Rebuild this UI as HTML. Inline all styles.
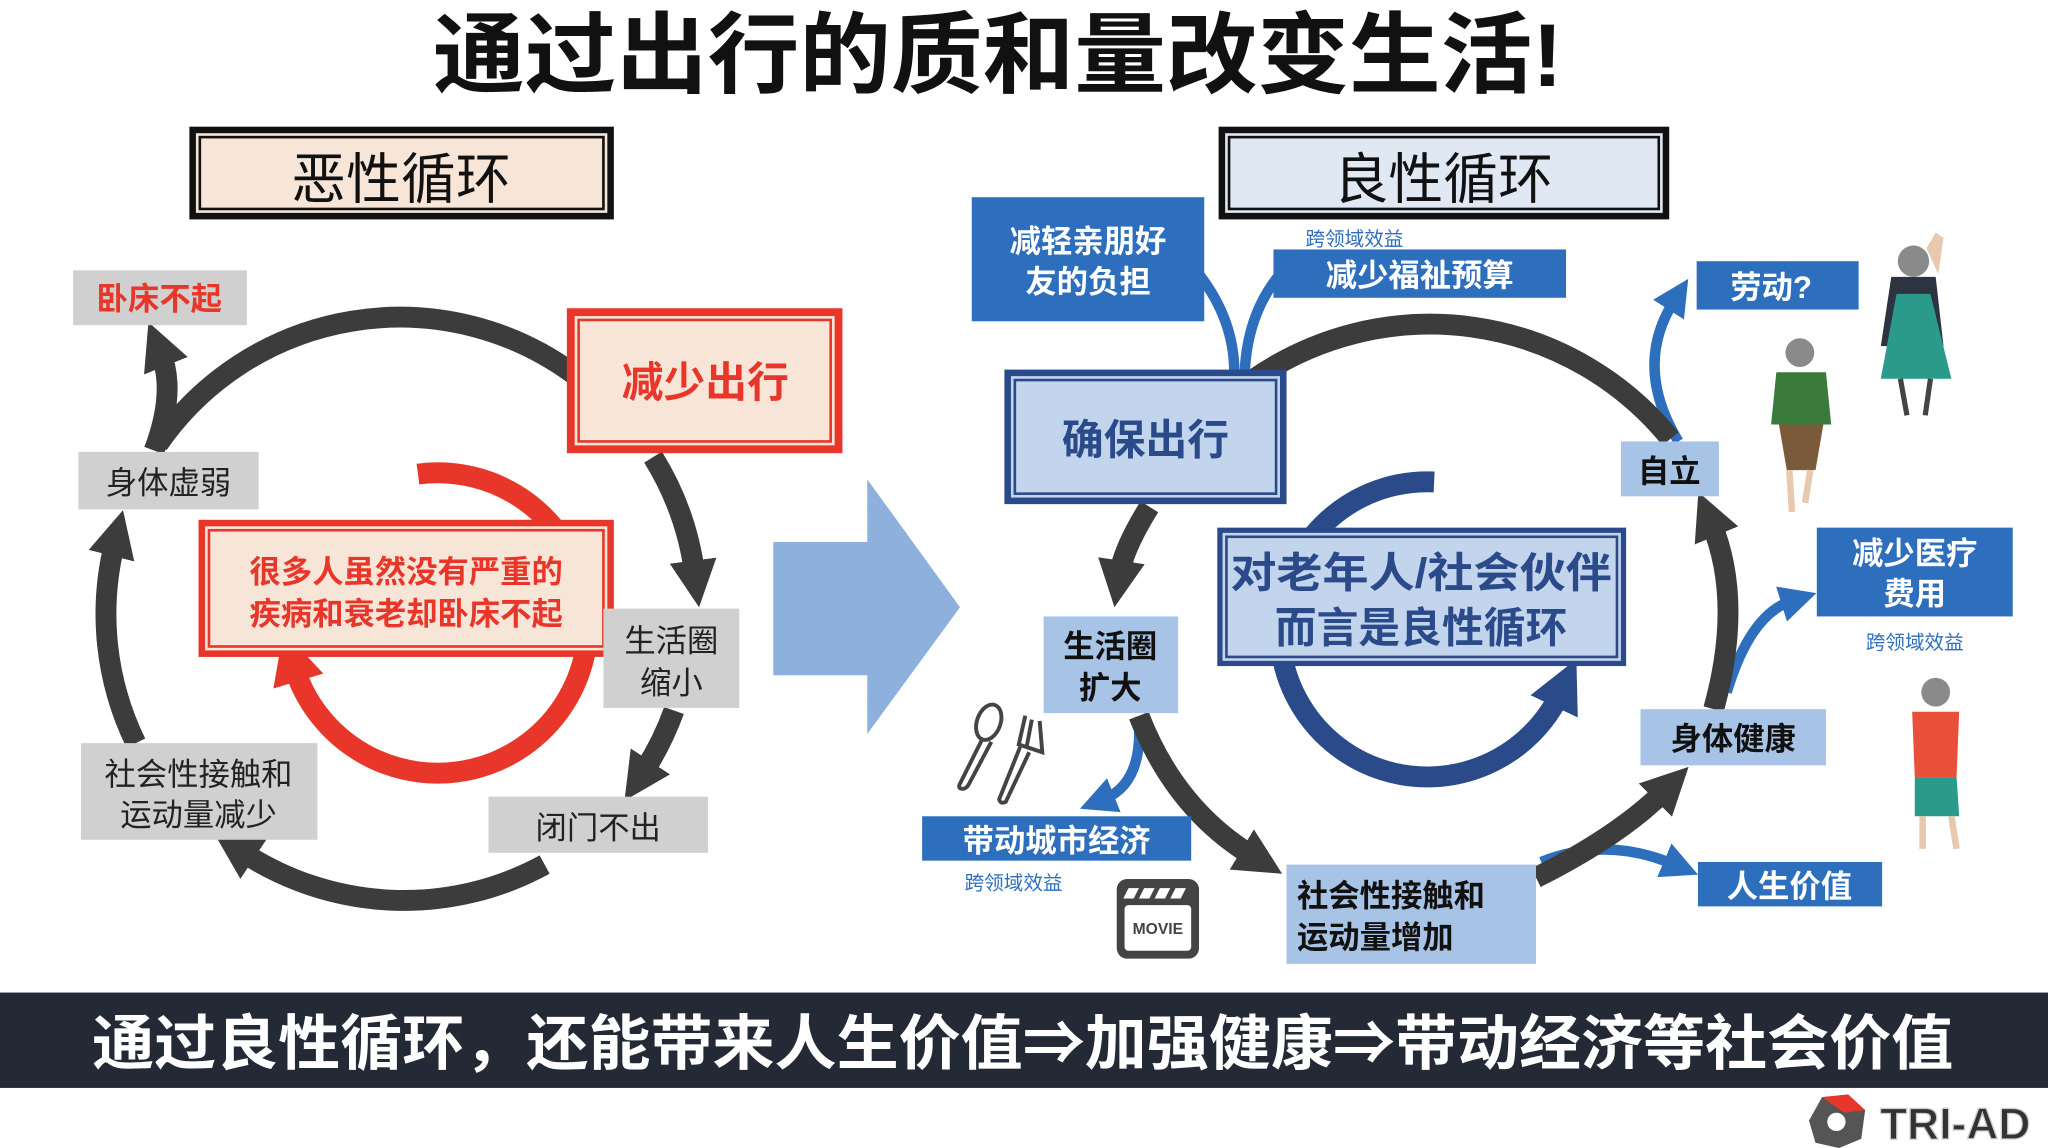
<!DOCTYPE html>
<html><head><meta charset="utf-8"><style>
html,body{margin:0;padding:0;background:#fff;}
svg{display:block;}
text{font-family:"Liberation Sans","Noto Sans CJK SC",sans-serif;}
</style></head><body>
<svg width="2048" height="1148" viewBox="0 0 1568 879" preserveAspectRatio="none" xmlns="http://www.w3.org/2000/svg">
<defs>
<marker id="md" viewBox="0 0 10 10" markerUnits="userSpaceOnUse" markerWidth="36" markerHeight="36" refX="3" refY="5" orient="auto"><path d="M0,0 L10,5 L0,10z" fill="#3c3c3c"/></marker>
<marker id="mb" viewBox="0 0 10 10" markerUnits="userSpaceOnUse" markerWidth="28" markerHeight="28" refX="3" refY="5" orient="auto"><path d="M0,0 L10,5 L0,10z" fill="#2e6fbd"/></marker>
<marker id="mr" viewBox="0 0 10 10" markerUnits="userSpaceOnUse" markerWidth="40" markerHeight="40" refX="3" refY="5" orient="auto"><path d="M0,0 L10,5 L0,10z" fill="#e8372a"/></marker>
<marker id="mn" viewBox="0 0 10 10" markerUnits="userSpaceOnUse" markerWidth="40" markerHeight="40" refX="3" refY="5" orient="auto"><path d="M0,0 L10,5 L0,10z" fill="#2a4a8a"/></marker>
</defs>
<rect width="1568" height="879" fill="#fff"/>
<!-- Title -->
<text x="764" y="66" font-size="68" font-weight="bold" text-anchor="middle" fill="#111" textLength="865" lengthAdjust="spacingAndGlyphs">通过出行的质和量改变生活!</text>

<!-- LEFT -->
<rect x="145" y="97" width="325" height="71" fill="#111"/>
<rect x="150" y="102" width="315" height="61" fill="#f7e6d8"/>
<rect x="153" y="105" width="309" height="55" fill="none" stroke="#111" stroke-width="2"/>
<text x="307" y="152" font-size="42" text-anchor="middle" fill="#111">恶性循环</text>

<g fill="none" stroke="#3c3c3c" stroke-width="16">
<path d="M121,340 A225,225 0 0 1 440,287"/>
<path d="M500,350 A225,225 0 0 1 532,440" marker-end="url(#md)"/>
<path d="M516,544 A225,225 0 0 1 492,592" marker-end="url(#md)"/>
<path d="M417,662 A225,225 0 0 1 185,652" marker-end="url(#md)"/>
<path d="M104,569 A225,225 0 0 1 88,415" marker-end="url(#md)"/>
<path d="M118,345 Q135,300 123,270" marker-end="url(#md)"/>
</g>
<path d="M320,363 A115,115 0 1 1 225,510" fill="none" stroke="#e8372a" stroke-width="16" marker-end="url(#mr)"/>

<rect x="56" y="207" width="133" height="42" fill="#d0d0d0"/>
<text x="122" y="237" font-size="24" font-weight="bold" text-anchor="middle" fill="#e8372a">卧床不起</text>

<rect x="434" y="236" width="211" height="111" fill="#e8372a"/>
<rect x="440" y="242" width="199" height="99" fill="#f7e6d8"/>
<rect x="443" y="245" width="193" height="93" fill="none" stroke="#e8372a" stroke-width="2"/>
<text x="540" y="304" font-size="32" font-weight="bold" text-anchor="middle" fill="#e8372a">减少出行</text>

<rect x="60" y="346" width="138" height="44" fill="#d0d0d0"/>
<text x="129" y="378" font-size="24" text-anchor="middle" fill="#222">身体虚弱</text>

<rect x="152" y="398" width="318" height="105" fill="#e8372a"/>
<rect x="157" y="403" width="308" height="95" fill="#f7e6d8"/>
<rect x="160" y="406" width="302" height="89" fill="none" stroke="#e8372a" stroke-width="2"/>
<text x="311" y="446" font-size="24" font-weight="bold" text-anchor="middle" fill="#e8372a">很多人虽然没有严重的</text>
<text x="311" y="478" font-size="24" font-weight="bold" text-anchor="middle" fill="#e8372a">疾病和衰老却卧床不起</text>

<rect x="462" y="466" width="104" height="76" fill="#d0d0d0"/>
<text x="514" y="499" font-size="24" text-anchor="middle" fill="#222">生活圈</text>
<text x="514" y="531" font-size="24" text-anchor="middle" fill="#222">缩小</text>

<rect x="62" y="569" width="181" height="74" fill="#d0d0d0"/>
<text x="152" y="601" font-size="24" text-anchor="middle" fill="#222">社会性接触和</text>
<text x="152" y="632" font-size="24" text-anchor="middle" fill="#222">运动量减少</text>

<rect x="374" y="610" width="168" height="43" fill="#d0d0d0"/>
<text x="458" y="642" font-size="24" text-anchor="middle" fill="#222">闭门不出</text>

<!-- Big arrow -->
<path d="M592,415 L664,415 L664,367 L735,465 L664,562 L664,517 L592,517z" fill="#8db0dc"/>

<!-- RIGHT -->
<rect x="933" y="97" width="345" height="71" fill="#111"/>
<rect x="938" y="102" width="335" height="61" fill="#dfe8f3"/>
<rect x="941" y="105" width="329" height="55" fill="none" stroke="#111" stroke-width="2"/>
<text x="1105" y="152" font-size="42" text-anchor="middle" fill="#111">良性循环</text>

<g fill="none" stroke="#2e6fbd" stroke-width="8">
<path d="M918,210 Q945,245 945,285"/>
<path d="M980,210 Q955,240 953,285"/>
<path d="M1285,338 Q1250,280 1282,230" marker-end="url(#mb)"/>
<path d="M1322,530 Q1340,470 1372,460" marker-end="url(#mb)"/>
<path d="M1180,660 Q1230,640 1282,662" marker-end="url(#mb)"/>
<path d="M872,552 Q875,600 845,612" marker-end="url(#mb)"/>
</g>

<g fill="none" stroke="#3c3c3c" stroke-width="16">
<path d="M1279,336 A237,237 0 0 0 959,291"/>
<path d="M880,388 Q860,420 857,440" marker-end="url(#md)"/>
<path d="M872,548 Q900,620 960,656" marker-end="url(#md)"/>
<path d="M1176,672 Q1240,640 1275,605" marker-end="url(#md)"/>
<path d="M1312,543 Q1335,460 1310,400" marker-end="url(#md)"/>
</g>
<path d="M1098,369 A113,113 0 1 0 1195,530" fill="none" stroke="#2a4a8a" stroke-width="16" marker-end="url(#mn)"/>

<rect x="744" y="151" width="178" height="95" fill="#2e6fbd"/>
<text x="833" y="193" font-size="24" font-weight="bold" text-anchor="middle" fill="#fff">减轻亲朋好</text>
<text x="833" y="224" font-size="24" font-weight="bold" text-anchor="middle" fill="#fff">友的负担</text>

<text x="1037" y="188" font-size="15" text-anchor="middle" fill="#2e6fbd">跨领域效益</text>
<rect x="975" y="191" width="224" height="37" fill="#2e6fbd"/>
<text x="1087" y="219" font-size="24" font-weight="bold" text-anchor="middle" fill="#fff">减少福祉预算</text>

<rect x="769" y="283" width="216" height="103" fill="#2a4a8a"/>
<rect x="774" y="288" width="206" height="93" fill="#c3d5ec"/>
<rect x="777" y="291" width="200" height="87" fill="none" stroke="#2a4a8a" stroke-width="2"/>
<text x="877" y="348" font-size="32" font-weight="bold" text-anchor="middle" fill="#2a4a8a">确保出行</text>

<rect x="932" y="404" width="313" height="106" fill="#2a4a8a"/>
<rect x="936" y="408" width="305" height="98" fill="#c3d5ec"/>
<rect x="939" y="411" width="299" height="92" fill="none" stroke="#2a4a8a" stroke-width="2"/>
<text x="1088" y="450" font-size="32" font-weight="bold" text-anchor="middle" fill="#2a4a8a" textLength="292" lengthAdjust="spacingAndGlyphs">对老年人/社会伙伴</text>
<text x="1088" y="492" font-size="32" font-weight="bold" text-anchor="middle" fill="#2a4a8a">而言是良性循环</text>

<rect x="799" y="472" width="103" height="74" fill="#a7c3e6"/>
<text x="850" y="503" font-size="24" font-weight="bold" text-anchor="middle" fill="#111">生活圈</text>
<text x="850" y="535" font-size="24" font-weight="bold" text-anchor="middle" fill="#111">扩大</text>

<!-- spoon & fork -->
<g fill="none" stroke="#444" stroke-width="3">
<ellipse cx="757" cy="553" rx="9" ry="14" transform="rotate(20 757 553)"/>
<path d="M752,566 L735,600 Q733,604 737,604 Q740,604 742,600 L759,568"/>
<path d="M785,548 L780,570 L798,576 L796,552 M790,551 L786,572 M781,572 L765,612 Q766,616 770,614 L788,576"/>
</g>
<!-- movie -->
<rect x="855" y="673" width="63" height="61" rx="8" fill="#444"/>
<rect x="861" y="693" width="51" height="35" rx="3" fill="#fff"/>
<g fill="#fff"><path d="M864,680 l8,0 l-4,8 l-8,0z M876,680 l8,0 l-4,8 l-8,0z M888,680 l8,0 l-4,8 l-8,0z M900,680 l8,0 l-4,8 l-8,0z"/></g>
<text x="886.5" y="715" font-size="12" font-weight="bold" text-anchor="middle" fill="#444">MOVIE</text>

<rect x="706" y="625" width="206" height="34" fill="#2e6fbd"/>
<text x="809" y="652" font-size="24" font-weight="bold" text-anchor="middle" fill="#fff">带动城市经济</text>
<text x="776" y="681" font-size="15" text-anchor="middle" fill="#2e6fbd">跨领域效益</text>

<rect x="985" y="662" width="191" height="76" fill="#a7c3e6"/>
<text x="993" y="694" font-size="24" font-weight="bold" fill="#111">社会性接触和</text>
<text x="993" y="726" font-size="24" font-weight="bold" fill="#111">运动量增加</text>

<rect x="1256" y="543" width="142" height="43" fill="#a7c3e6"/>
<text x="1327" y="574" font-size="24" font-weight="bold" text-anchor="middle" fill="#111">身体健康</text>

<rect x="1241" y="338" width="75" height="42" fill="#a7c3e6"/>
<text x="1278" y="369" font-size="24" font-weight="bold" text-anchor="middle" fill="#111">自立</text>

<rect x="1299" y="200" width="124" height="37" fill="#2e6fbd"/>
<text x="1356" y="228" font-size="24" font-weight="bold" text-anchor="middle" fill="#fff">劳动?</text>

<rect x="1391" y="404" width="150" height="68" fill="#2e6fbd"/>
<text x="1466" y="432" font-size="24" font-weight="bold" text-anchor="middle" fill="#fff">减少医疗</text>
<text x="1466" y="463" font-size="24" font-weight="bold" text-anchor="middle" fill="#fff">费用</text>
<text x="1466" y="497" font-size="15" text-anchor="middle" fill="#2e6fbd">跨领域效益</text>

<rect x="1300" y="660" width="141" height="34" fill="#2e6fbd"/>
<text x="1370" y="687" font-size="24" font-weight="bold" text-anchor="middle" fill="#fff">人生价值</text>

<!-- figures -->
<g>
<circle cx="1465" cy="200" r="12" fill="#8a8a8a"/>
<path d="M1475,190 L1482,178 L1488,182 L1484,210z" fill="#e8c9b0"/>
<path d="M1448,212 L1482,212 L1488,265 L1440,265z" fill="#2d3340"/>
<path d="M1452,225 L1478,225 L1494,290 L1440,290z" fill="#2a9a8a"/>
<path d="M1455,290 L1460,318 M1478,290 L1474,318" stroke="#444" stroke-width="4"/>
<circle cx="1378" cy="270" r="11" fill="#8a8a8a"/>
<path d="M1360,285 L1398,285 L1402,325 L1356,325z" fill="#3a7a3a"/>
<path d="M1362,325 L1396,325 L1390,360 L1368,360z" fill="#7a5a3a"/>
<path d="M1370,360 L1372,392 M1386,360 L1382,385" stroke="#e8c9b0" stroke-width="5"/>
<circle cx="1482" cy="530" r="11" fill="#8a8a8a"/>
<path d="M1464,545 L1500,545 L1498,595 L1466,595z" fill="#e8503a"/>
<path d="M1466,595 L1498,595 L1500,625 L1466,625z" fill="#2a9a8a"/>
<path d="M1472,625 L1472,650 M1494,625 L1498,650" stroke="#e8c9b0" stroke-width="5"/>
</g>

<!-- Bottom bar -->
<rect x="0" y="760" width="1568" height="73" fill="#232a36"/>
<text x="783" y="815" font-size="46" font-weight="bold" text-anchor="middle" fill="#fff" textLength="1425" lengthAdjust="spacingAndGlyphs">通过良性循环，还能带来人生价值⇒加强健康⇒带动经济等社会价值</text>

<!-- logo -->
<path d="M1385,858 L1395,840 L1415,838 L1428,850 L1425,872 L1408,879 L1390,875z" fill="#555"/>
<path d="M1395,840 L1415,838 L1428,850 L1412,852z" fill="#e8372a"/>
<circle cx="1406" cy="859" r="7" fill="#fff"/>
<text x="1497" y="872" font-size="34" font-weight="bold" text-anchor="middle" fill="#333" stroke="#ccc" stroke-width="1">TRI-AD</text>
</svg>
</body></html>
